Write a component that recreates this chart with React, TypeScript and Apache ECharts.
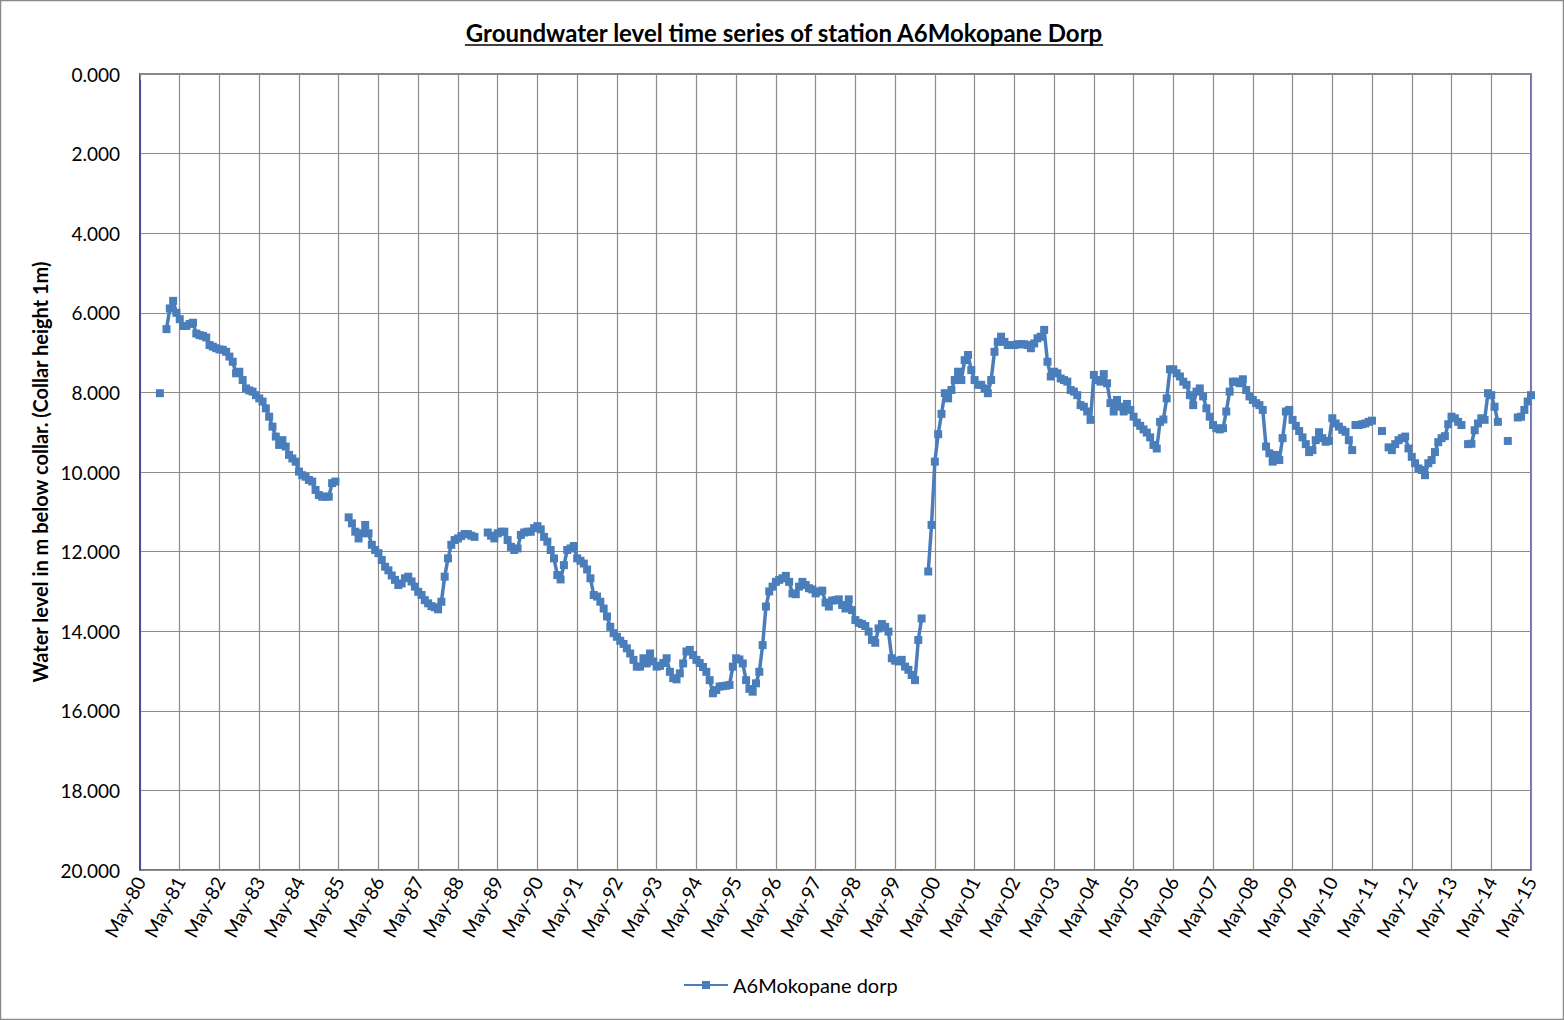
import React, { useEffect, useRef } from "react";
import * as echarts from "echarts";

// Water level (m below collar), consecutive monthly readings per segment
const seg1Start = "1980-11";
const seg1 = [8.02];
const seg2Start = "1981-01";
const seg2 = [
  6.41, 5.89, 5.7, 6.0, 6.16, 6.33, 6.33, 6.28, 6.25, 6.52,
  6.56, 6.58, 6.62, 6.81, 6.85, 6.89, 6.92, 6.93, 6.98, 7.1,
  7.23, 7.52, 7.48, 7.69, 7.9, 7.95, 7.98, 8.07, 8.15, 8.23,
  8.4, 8.61, 8.86, 9.11, 9.32, 9.2, 9.36, 9.57, 9.66, 9.74,
  9.99, 10.08, 10.12, 10.2, 10.24, 10.45, 10.58, 10.62, 10.62, 10.62,
  10.28, 10.24,
];
const seg3Start = "1985-08";
const seg3 = [
  11.14, 11.29, 11.5, 11.67, 11.54, 11.33, 11.54, 11.83, 11.96, 12.04,
  12.21, 12.38, 12.47, 12.6, 12.71, 12.84, 12.8, 12.67, 12.63, 12.75,
  12.88, 13.01, 13.09, 13.22, 13.3, 13.37, 13.4, 13.45, 13.26, 12.63,
  12.17, 11.83, 11.71, 11.67, 11.61, 11.56, 11.56, 11.6, 11.63,
];
const seg4Start = "1989-02";
const seg4 = [
  11.52, 11.6, 11.67, 11.54, 11.5, 11.5, 11.71, 11.88, 11.96, 11.92,
  11.58, 11.52, 11.5, 11.5, 11.41, 11.36, 11.44, 11.63, 11.75, 11.96,
  12.17, 12.59, 12.7, 12.34, 11.96, 11.92, 11.86, 12.17, 12.23, 12.3,
  12.45, 12.67, 13.09, 13.13, 13.26, 13.43, 13.63, 13.89, 14.05, 14.14,
  14.24, 14.32, 14.43, 14.56, 14.72, 14.89, 14.89, 14.68, 14.81, 14.56,
  14.76, 14.89, 14.87, 14.8, 14.68, 15.02, 15.18, 15.21, 15.06, 14.81,
  14.51, 14.47, 14.6, 14.72, 14.8, 14.9, 15.02, 15.23, 15.56, 15.48,
  15.39, 15.38, 15.37, 15.35, 14.89, 14.68, 14.71, 14.81, 15.23, 15.45,
  15.52, 15.31, 15.02, 14.35, 13.38, 13.0, 12.88, 12.76, 12.71, 12.67,
  12.61, 12.76, 13.05, 13.07, 12.88, 12.76, 12.84, 12.92, 12.95, 13.05,
  13.0, 12.98, 13.28, 13.38, 13.23, 13.22, 13.2, 13.34, 13.43, 13.2,
  13.47, 13.72, 13.79, 13.82, 13.87, 14.01, 14.22, 14.29, 13.93, 13.82,
  13.89, 14.01, 14.68, 14.74, 14.76, 14.72, 14.89, 14.97, 15.1, 15.23,
  14.22, 13.68,
];
const seg5Start = "2000-03";
const seg5 = [
  12.5, 11.33, 9.74, 9.05, 8.54, 8.02, 8.15, 7.94, 7.69, 7.48,
  7.69, 7.19, 7.06, 7.44, 7.69, 7.81, 7.81, 7.9, 8.02, 7.69,
  6.98, 6.73, 6.6, 6.73, 6.81, 6.81, 6.81, 6.79, 6.79, 6.79,
  6.81, 6.89, 6.77, 6.64, 6.6, 6.43, 7.23, 7.6, 7.48, 7.52,
  7.65, 7.69, 7.73, 7.94, 7.98, 8.07, 8.32, 8.36, 8.48, 8.69,
  7.56, 7.69, 7.73, 7.54, 7.77, 8.27, 8.48, 8.19, 8.36, 8.48,
  8.29, 8.44, 8.61, 8.76, 8.84, 8.93, 9.01, 9.13, 9.32, 9.41,
  8.74, 8.68, 8.15, 7.42, 7.42, 7.52, 7.6, 7.73, 7.81, 8.07,
  8.32, 7.98, 7.9, 8.1, 8.4, 8.61, 8.82, 8.9, 8.93, 8.9,
  8.48, 7.98, 7.73, 7.73, 7.77, 7.67, 7.94, 8.1, 8.19, 8.27,
  8.32, 8.44, 9.36, 9.53, 9.74, 9.57, 9.7, 9.15, 8.48, 8.44,
  8.69, 8.84, 8.97, 9.13, 9.3, 9.5, 9.45, 9.2, 9.0, 9.15,
  9.24, 9.22, 8.65, 8.78, 8.86, 8.94, 8.99, 9.2, 9.45,
];
const seg6Start = "2010-12";
const seg6 = [8.82, 8.82, 8.8, 8.78, 8.74, 8.71];
const seg7Start = "2011-08";
const seg7 = [8.97];
const seg8Start = "2011-10";
const seg8 = [
  9.38, 9.45, 9.3, 9.2, 9.15, 9.11, 9.41, 9.62, 9.78, 9.91,
  9.95, 10.08, 9.78, 9.7, 9.5, 9.25, 9.15, 9.1, 8.8, 8.61,
  8.65, 8.74, 8.82,
];
const seg9Start = "2013-10";
const seg9 = [9.3, 9.29, 8.95, 8.78, 8.65, 8.69, 8.02, 8.07, 8.36, 8.74];
const seg10Start = "2014-10";
const seg10 = [9.22];
const seg11Start = "2015-01";
const seg11 = [8.63, 8.61, 8.44, 8.23, 8.07];

const segments: [string, number[]][] = [
  [seg1Start, seg1], [seg2Start, seg2], [seg3Start, seg3], [seg4Start, seg4],
  [seg5Start, seg5], [seg6Start, seg6], [seg7Start, seg7], [seg8Start, seg8],
  [seg9Start, seg9], [seg10Start, seg10], [seg11Start, seg11],
];

// x axis: months since May 1980, a tick every May
const axisStartYear = 1980;
const axisStartMonth = 5;
const axisYears = 35;
const yTickMin = 0;
const yTickMax = 20;
const yTickStep = 2;

const titleText = "Groundwater level time series of station A6Mokopane Dorp";
const yAxisTitle = "Water level in m below collar. (Collar height 1m)";
const seriesName = "A6Mokopane dorp";

const FONT = "Lato, 'Open Sans', 'DejaVu Sans', sans-serif";

function monthIndex(d: string): number {
  const [y, m] = d.split("-").map(Number);
  return (y - axisStartYear) * 12 + (m - axisStartMonth);
}

function buildData(): (number | string)[][] {
  const out: (number | string)[][] = [];
  segments.forEach(([start, vals], si) => {
    const s = monthIndex(start);
    vals.forEach((v, i) => out.push([s + i, v]));
    if (si < segments.length - 1) out.push([s + vals.length - 0.5, "-"]);
  });
  return out;
}

export default function App() {
  const ref = useRef<HTMLDivElement>(null);
  useEffect(() => {
    document.body.style.margin = "0";
    if (!ref.current) return;
    const chart = echarts.init(ref.current, undefined, { renderer: "svg" });

    const titleFont = `bold 24px ${FONT}`;
    const c = document.createElement("canvas").getContext("2d")!;
    c.font = titleFont;
    const tw = c.measureText(titleText).width;
    const tcx = 784;

    const blue = "#4a7ebb";
    const gridGrey = "#8c8c8c";
    const navy = "#3c3c9a";

    chart.setOption({
      animation: false,
      backgroundColor: "#ffffff",
      textStyle: { fontFamily: FONT },
      grid: {
        left: 140,
        right: 33,
        top: 74,
        bottom: 150,
        show: true,
        borderColor: navy,
        borderWidth: 1.5,
        containLabel: false,
      },
      graphic: [
        {
          type: "rect",
          shape: { x: 0.5, y: 0.5, width: 1563, height: 1019 },
          style: { fill: "none", stroke: "#8a8a8a", lineWidth: 1.5 },
          silent: true,
        },
        {
          type: "text",
          x: tcx,
          y: 32,
          style: {
            text: titleText,
            font: titleFont,
            fill: "#000",
            textAlign: "center",
            textVerticalAlign: "middle",
          },
        },
        {
          type: "line",
          shape: { x1: tcx - tw / 2, y1: 45, x2: tcx + tw / 2, y2: 45 },
          style: { stroke: "#000", lineWidth: 1.6 },
        },
      ],
      legend: {
        left: 683,
        top: 975,
        padding: 0,
        itemWidth: 44,
        itemHeight: 10,
        itemGap: 4,
        textStyle: { fontSize: 20, color: "#000", fontFamily: FONT },
        data: [seriesName],
      },
      xAxis: {
        type: "value",
        min: 0,
        max: axisYears * 12,
        interval: 12,
        axisLine: { show: true, lineStyle: { color: gridGrey, width: 1.5 } },
        axisTick: { show: true, length: 6, lineStyle: { color: gridGrey } },
        splitLine: { show: true, lineStyle: { color: gridGrey, width: 1.2 } },
        axisLabel: {
          rotate: 62,
          margin: 8,
          fontSize: 19,
          color: "#000",
          fontFamily: FONT,
          formatter: (v: number) => {
            const yy = (axisStartYear + Math.round(v / 12)) % 100;
            return "May-" + String(yy).padStart(2, "0");
          },
        },
      },
      yAxis: {
        type: "value",
        inverse: true,
        min: yTickMin,
        max: yTickMax,
        interval: yTickStep,
        name: yAxisTitle,
        nameLocation: "middle",
        nameGap: 88,
        nameRotate: 90,
        nameTextStyle: { fontSize: 20, fontWeight: "bold", color: "#000", fontFamily: FONT },
        axisLine: { show: true, lineStyle: { color: navy, width: 1.5 } },
        axisTick: { show: false },
        splitLine: { show: true, lineStyle: { color: gridGrey, width: 1.2 } },
        axisLabel: {
          margin: 20,
          fontSize: 19,
          color: "#000",
          fontFamily: FONT,
          formatter: (v: number) => v.toFixed(3),
        },
      },
      series: [
        {
          name: seriesName,
          type: "line",
          data: buildData(),
          connectNulls: false,
          symbol: "rect",
          symbolSize: 8,
          showAllSymbol: true,
          lineStyle: { color: blue, width: 3.5 },
          itemStyle: { color: blue },
        },
      ],
    });
    return () => chart.dispose();
  }, []);
  return (
    <div
      ref={ref}
      style={{ position: "fixed", left: 0, top: 0, width: 1564, height: 1020 }}
    />
  );
}
